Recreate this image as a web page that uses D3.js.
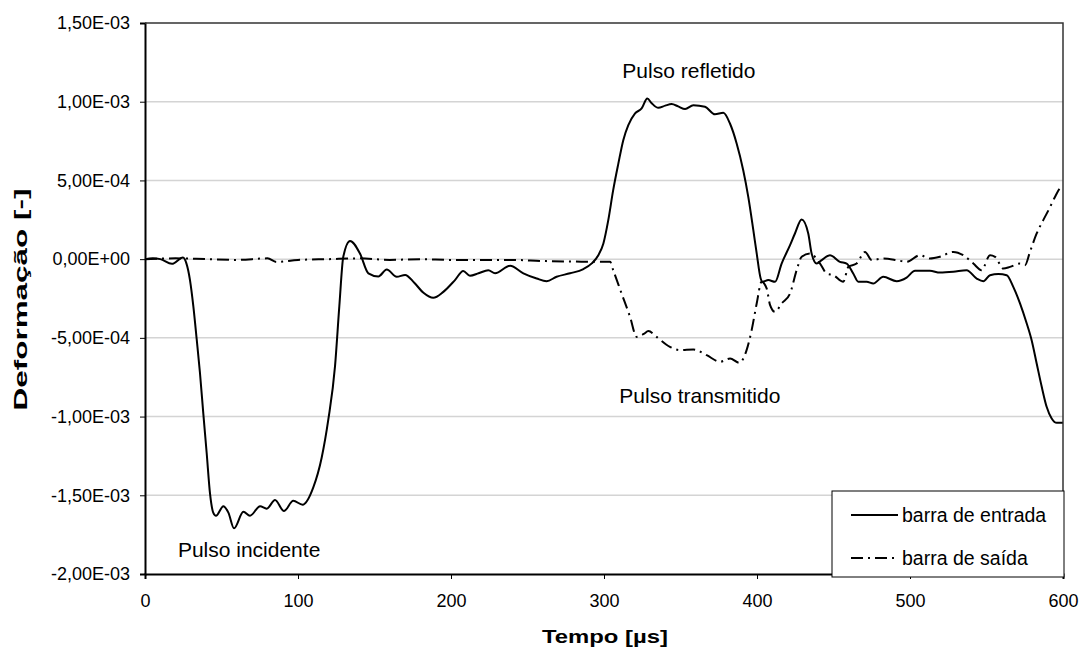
<!DOCTYPE html>
<html>
<head>
<meta charset="utf-8">
<script src="https://cdn.jsdelivr.net/npm/d3@7"></script>
<style>
  body { margin: 0; background: #fff; }
  svg { font-family: "Liberation Sans", Arial, sans-serif; }
</style>
</head>
<body>
<div id="chart"></div>
<script>
// tempo [µs] e deformação
const entradaT = [0, 5, 10, 17.6, 24.8, 27, 29.4, 31.6, 33.8, 35.9, 38.1, 40.3, 42.5, 44.6, 46.4, 51.2, 54.5, 58.2, 64.3, 68.6, 75.2, 79.5, 85, 90.8, 96.9, 103, 110, 115.5, 119.8, 124.2, 127, 129.6, 134, 140.5, 146, 152.5, 158, 164.5, 170, 176, 182, 188.4, 195, 202.6, 208, 212.4, 218, 224.4, 228.8, 238.6, 247.3, 256, 262.5, 269, 277.8, 286.5, 292, 296.3, 299.6, 302.8, 306, 309.4, 312.6, 315.9, 320.3, 324.6, 328.3, 331.2, 335.5, 340, 344.2, 348.5, 353, 358.4, 366, 372.5, 378, 382.4, 386.7, 391, 394.3, 397.6, 399.8, 402.4, 403.7, 407.4, 411.8, 416.1, 421.6, 424.8, 429.2, 433.5, 435.7, 439, 442.3, 447.7, 454.2, 458.6, 462.9, 466.2, 471.7, 476, 482.5, 491.3, 497.8, 503.3, 513, 519.6, 528.3, 537, 543.6, 548, 552.3, 557.8, 563.2, 567.5, 571.9, 576.3, 579.5, 582.8, 586.1, 589.3, 592.6, 595.9, 599.8];
const entradaV = [0, 0.05e-4, 0, -0.3e-4, 0.1e-4, -0.25e-4, -1.33e-4, -3.0e-4, -5.1e-4, -7.2e-4, -9.8e-4, -12.3e-4, -14.9e-4, -16.1e-4, -16.3e-4, -15.7e-4, -16.1e-4, -17.1e-4, -16.05e-4, -16.3e-4, -15.7e-4, -15.85e-4, -15.3e-4, -16.0e-4, -15.35e-4, -15.6e-4, -14.5e-4, -12.6e-4, -10.2e-4, -6.8e-4, -3.0e-4, 0.15e-4, 1.16e-4, 0.36e-4, -0.9e-4, -1.1e-4, -0.66e-4, -1.12e-4, -1.0e-4, -1.5e-4, -2.14e-4, -2.46e-4, -2.08e-4, -1.33e-4, -0.75e-4, -1.06e-4, -0.9e-4, -0.7e-4, -0.9e-4, -0.42e-4, -0.9e-4, -1.23e-4, -1.4e-4, -1.12e-4, -0.9e-4, -0.63e-4, -0.27e-4, 0.25e-4, 1.0e-4, 2.48e-4, 4.38e-4, 6.08e-4, 7.56e-4, 8.51e-4, 9.26e-4, 9.57e-4, 10.2e-4, 9.9e-4, 9.61e-4, 9.75e-4, 9.85e-4, 9.7e-4, 9.53e-4, 9.78e-4, 9.68e-4, 9.2e-4, 9.3e-4, 8.6e-4, 7.35e-4, 5.65e-4, 3.96e-4, 1.84e-4, 0.36e-4, -1.23e-4, -1.44e-4, -1.33e-4, -1.44e-4, -0.28e-4, 0.89e-4, 1.63e-4, 2.52e-4, 1.63e-4, 0.36e-4, -0.28e-4, -0.06e-4, 0.25e-4, -0.17e-4, -0.28e-4, -0.91e-4, -1.44e-4, -1.44e-4, -1.55e-4, -1.12e-4, -1.4e-4, -1.17e-4, -0.74e-4, -0.74e-4, -0.85e-4, -0.8e-4, -0.7e-4, -1.23e-4, -1.4e-4, -1.02e-4, -0.95e-4, -1.02e-4, -1.76e-4, -2.81e-4, -4.09e-4, -5.15e-4, -6.63e-4, -8.11e-4, -9.38e-4, -10.12e-4, -10.4e-4, -10.4e-4];

const saidaT = [0, 20, 40, 60, 80, 86, 100, 120, 140, 160, 180, 200, 220, 240, 260, 280, 296, 304, 306, 311.5, 317, 321.4, 326, 329, 334.4, 343.1, 349.7, 358.4, 367.1, 375.8, 382.4, 388.4, 393.2, 396.5, 399.8, 403, 406.3, 408.5, 411.8, 416.1, 421.6, 425.9, 429.2, 434.6, 441.2, 445.5, 449.9, 456.4, 459.7, 465.1, 470.6, 475, 482.5, 491.3, 497.8, 506.5, 513, 519.6, 528.3, 534.8, 541.4, 546.8, 552.3, 555.6, 561, 565.4, 571.9, 575.2, 578.4, 582.8, 587.1, 591, 595, 598, 600];
const saidaV = [0, 0.05e-4, 0, -0.05e-4, 0.05e-4, -0.18e-4, -0.05e-4, 0, 0.05e-4, -0.05e-4, 0, -0.05e-4, -0.05e-4, -0.05e-4, -0.12e-4, -0.15e-4, -0.17e-4, -0.17e-4, -0.7e-4, -2.18e-4, -3.66e-4, -4.94e-4, -4.75e-4, -4.57e-4, -4.94e-4, -5.57e-4, -5.78e-4, -5.74e-4, -6.1e-4, -6.52e-4, -6.31e-4, -6.59e-4, -5.78e-4, -4.51e-4, -2.82e-4, -1.44e-4, -1.86e-4, -2.9e-4, -3.35e-4, -2.82e-4, -2.18e-4, -0.7e-4, 0.15e-4, 0.36e-4, -0.28e-4, -0.91e-4, -1.02e-4, -1.44e-4, -0.49e-4, -0.28e-4, 0.46e-4, -0.06e-4, 0.04e-4, -0.06e-4, -0.17e-4, 0.25e-4, 0.04e-4, 0.15e-4, 0.46e-4, 0.25e-4, -0.28e-4, -0.7e-4, 0.25e-4, 0.15e-4, -0.6e-4, -0.49e-4, -0.28e-4, -0.38e-4, 0.46e-4, 1.63e-4, 2.48e-4, 3.2e-4, 4.0e-4, 4.5e-4, 4.6e-4];

const yTicks = [-2e-3, -1.5e-3, -1e-3, -5e-4, 0, 5e-4, 1e-3, 1.5e-3];
const xTicks = [0, 100, 200, 300, 400, 500, 600];
const seriesNames = ["barra de entrada", "barra de saída"];
const annotations = [
    {text: "Pulso refletido", t: 312, v: 11.5e-4},
    {text: "Pulso transmitido", t: 310, v: -9.15e-4},
    {text: "Pulso incidente", t: 21.5, v: -18.93e-4}
];

const width = 1081, height = 654;
const margin = {left: 145, right: 18, top: 23, bottom: 80};

const svg = d3.select("#chart")
.append("svg")
.attr("width", width)
.attr("height", height);

const xScale = d3.scaleLinear()
.domain([0, 600])
.range([margin.left, width - margin.right]);

const yScale = d3.scaleLinear()
.domain([-2e-3, 1.5e-3])
.range([height - margin.bottom, margin.top]);

// formato tipo Excel: 1,50E-03
function fmtExp(v) {
    if (v === 0) return "0,00E+00";
    let parts = v.toExponential(2).split("e");
    let mant = parts[0].replace(".", ",");
    let exp = parseInt(parts[1]);
    let sign = exp < 0 ? "-" : "+";
    let e = String(Math.abs(exp)).padStart(2, "0");
    return mant + "E" + sign + e;
}

// linhas de grade
svg.append("g")
.selectAll("line")
.data(yTicks.filter(d => d > -2e-3 && d < 1.5e-3))
.join("line")
.attr("x1", xScale(0))
.attr("x2", xScale(600))
.attr("y1", d => yScale(d))
.attr("y2", d => yScale(d))
.attr("stroke", "#d4d4d4")
.attr("stroke-width", 1.5);

// eixos
const yAxis = svg.append("g")
.attr("transform", `translate(${xScale(0)},0)`)
.call(d3.axisLeft(yScale).tickValues(yTicks).tickFormat(fmtExp).tickSize(5).tickPadding(10));

const xAxis = svg.append("g")
.attr("transform", `translate(0,${yScale(-2e-3)})`)
.call(d3.axisBottom(xScale).tickValues(xTicks).tickFormat(d3.format("d")).tickSize(5).tickPadding(15));

[yAxis, xAxis].forEach(a => {
    a.select(".domain").attr("stroke", "#000").attr("stroke-width", 2);
    a.selectAll(".tick line").attr("stroke", "#000").attr("stroke-width", 1);
    a.selectAll(".tick text")
    .attr("font-family", "'Liberation Sans', Arial, sans-serif")
    .attr("font-size", 18)
    .attr("fill", "#000");
});

// borda superior e direita
svg.append("path")
.attr("d", `M${xScale(0)},${yScale(1.5e-3)}H${xScale(600)}V${yScale(-2e-3)}`)
.attr("fill", "none")
.attr("stroke", "#333")
.attr("stroke-width", 1.5);

const entrada = entradaT.map((t, i) => [t, entradaV[i]]);
const saida = saidaT.map((t, i) => [t, saidaV[i]]);

const line = d3.line()
.x(d => xScale(d[0]))
.y(d => yScale(d[1]))
.curve(d3.curveMonotoneX);

svg.append("path")
.datum(saida)
.attr("d", line)
.attr("fill", "none")
.attr("stroke", "#000")
.attr("stroke-width", 2)
.attr("stroke-dasharray", "12,5,2,5");

svg.append("path")
.datum(entrada)
.attr("d", line)
.attr("fill", "none")
.attr("stroke", "#000")
.attr("stroke-width", 2);

// anotações
svg.selectAll(".annot")
.data(annotations)
.join("text")
.attr("class", "annot")
.attr("x", d => xScale(d.t))
.attr("y", d => yScale(d.v))
.attr("font-size", 21)
.attr("fill", "#000")
.text(d => d.text);

// títulos dos eixos
svg.append("text")
.attr("transform", `translate(27,${(yScale(1.5e-3) + yScale(-2e-3)) / 2 + 1}) rotate(-90)`)
.attr("text-anchor", "middle")
.attr("font-size", 19)
.attr("font-weight", "bold")
.attr("textLength", 222)
.attr("lengthAdjust", "spacingAndGlyphs")
.text("Deformação [-]");

svg.append("text")
.attr("x", 605)
.attr("y", 643)
.attr("text-anchor", "middle")
.attr("font-size", 19)
.attr("font-weight", "bold")
.attr("textLength", 126)
.attr("lengthAdjust", "spacingAndGlyphs")
.text("Tempo [µs]");

// legenda
const legend = svg.append("g").attr("transform", "translate(832,491)");
legend.append("rect")
.attr("width", 232)
.attr("height", 86)
.attr("fill", "#fff")
.attr("stroke", "#000")
.attr("stroke-width", 1);

legend.selectAll(".leg-line")
.data(seriesNames)
.join("line")
.attr("class", "leg-line")
.attr("x1", 19)
.attr("x2", 66)
.attr("y1", (d, i) => 24 + i * 43)
.attr("y2", (d, i) => 24 + i * 43)
.attr("stroke", "#000")
.attr("stroke-width", 2)
.attr("stroke-dasharray", (d, i) => i === 1 ? "12,5,2,5" : null);

legend.selectAll(".leg-text")
.data(seriesNames)
.join("text")
.attr("class", "leg-text")
.attr("x", 70)
.attr("y", (d, i) => 31 + i * 43)
.attr("font-size", 19.5)
.attr("fill", "#000")
.text(d => d);
</script>
</body>
</html>
